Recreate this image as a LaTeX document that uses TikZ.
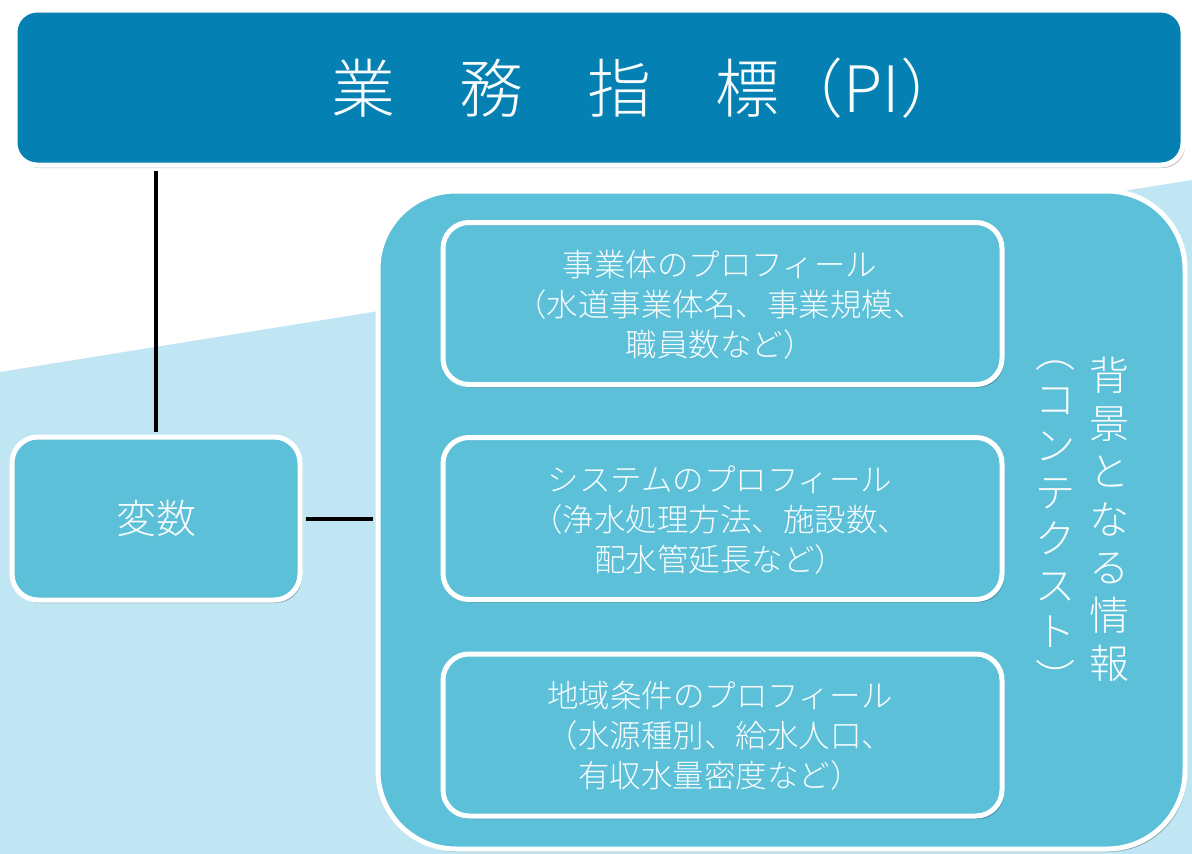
\documentclass[tikz,border=0pt]{standalone}
\usepackage{fontspec}
\newfontfamily\cjk{Noto Sans CJK JP}[UprightFont=* Light]
\usetikzlibrary{shadows,calc}
\definecolor{darkblue}{RGB}{5,128,178}
\definecolor{midblue}{RGB}{91,192,216}
\definecolor{lightbg}{RGB}{192,230,244}
\definecolor{txt}{RGB}{248,252,253}
\tikzset{
  boxbase/.style={draw=white, line width=5pt, text=txt, align=center, inner sep=0pt,
    drop shadow={shadow xshift=2pt, shadow yshift=-3pt, opacity=0.25, fill=black}},
  titlebox/.style={boxbase, fill=darkblue, rounded corners=22pt,
    minimum width=1168pt, minimum height=155pt},
  varbox/.style={boxbase, fill=midblue, rounded corners=26pt,
    minimum width=288pt, minimum height=163pt},
  contbox/.style={boxbase, fill=midblue, rounded corners=78pt,
    minimum width=807pt, minimum height=658pt},
  infobox/.style={boxbase, fill=midblue, rounded corners=26pt,
    minimum width=559pt, minimum height=162pt},
  infotext/.style={text=txt, align=center, inner sep=0pt,
    font=\cjk\fontsize{31.5}{40}\selectfont},
  vtext/.style={text=txt, align=center, inner sep=0pt},
  link/.style={draw=black, line width=4pt}
}
\begin{document}
\begin{tikzpicture}[x=1pt,y=-1pt]
\useasboundingbox (0,0) rectangle (1192,854);
\fill[white] (0,0) rectangle (1192,854);
\fill[lightbg] (0,372) -- (1192,180) -- (1192,854) -- (0,854) -- cycle;

\node[titlebox] (pi) at (599,87.5) {};
\node[vtext, font=\cjk\fontsize{64}{70}\selectfont] (pitext) at (648,88) {業　務　指　標（PI）};

\node[contbox] (ctx) at (781.5,520) {};

\node[varbox, font=\cjk\fontsize{40}{48}\selectfont] (var) at (156,518.5) {変数};

\node[infobox] (b1) at (722.5,303.5) {};
\node[infotext] (t1) at (720,305) {事業体のプロフィール\\（水道事業体名、事業規模、\\職員数など）};
\node[infobox] (b2) at (722.5,518.5) {};
\node[infotext] (t2) at (720,520) {システムのプロフィール\\（浄水処理方法、施設数、\\配水管延長など）};
\node[infobox] (b3) at (722.5,735) {};
\node[infotext] (t3) at (720,736) {地域条件のプロフィール\\（水源種別、給水人口、\\有収水量密度など）};

\node[vtext, font=\cjk\fontsize{40}{48}\selectfont] (v1) at (1109,519) {背\\景\\と\\な\\る\\情\\報};
\node[vtext, font=\cjk\fontsize{40}{46.5}\selectfont] (v2) at (1055,527) {︵\\コ\\ン\\テ\\ク\\ス\\ト\\︶};

\draw[link] ([yshift=-3pt]var.north |- pi.south) -- ([yshift=3pt]var.north);
\draw[link] ([xshift=3pt]var.east) -- ([xshift=-3pt]var.east -| ctx.west);
\end{tikzpicture}
\end{document}
